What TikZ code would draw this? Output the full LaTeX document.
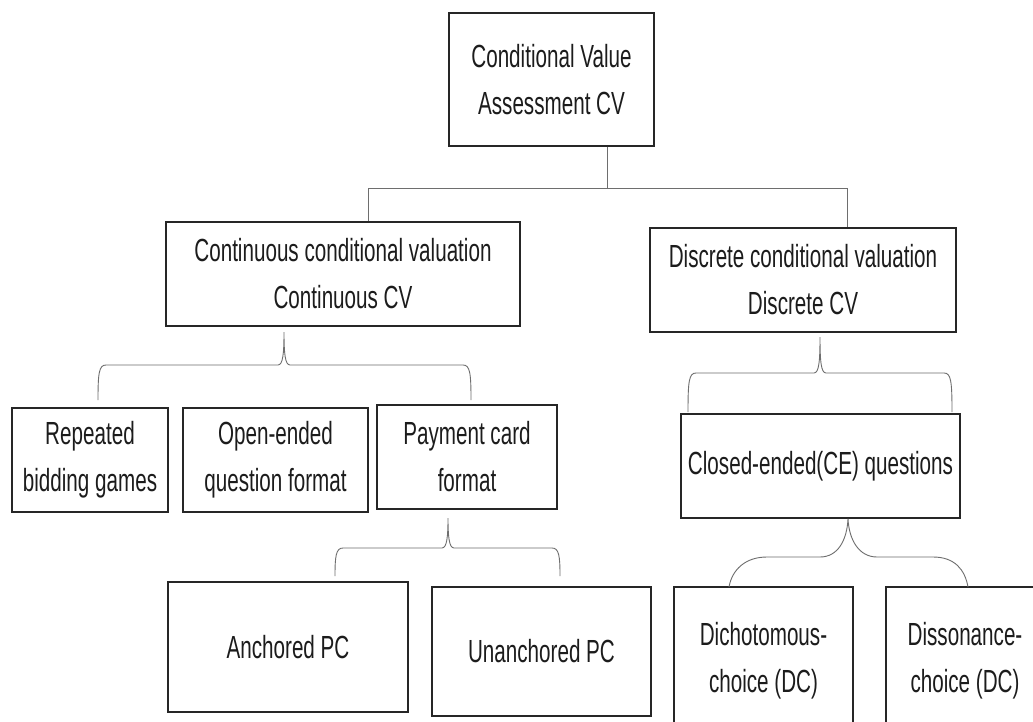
\documentclass[tikz,border=0pt]{standalone}
\usepackage{fontspec}
\setmainfont{Liberation Sans}[FakeStretch=0.645]
\definecolor{boxline}{HTML}{262626}
\definecolor{wire}{HTML}{6E6E6E}
\definecolor{ink}{HTML}{1C1C1C}
% square-ended brace: tip x, tip y, bar y, left x, right x, end y
\newcommand\bracepath[6]{%
  \draw[conn] (#4,#6) .. controls (#4,#3+8) and (#4+1,#3) .. (#4+8,#3)
    -- (#1-6,#3) .. controls (#1-1,#3) and (#1,#3-12) .. (#1,#2)
    .. controls (#1,#3-12) and (#1+1,#3) .. (#1+6,#3)
    -- (#5-8,#3) .. controls (#5-1,#3) and (#5,#3+8) .. (#5,#6);}
\begin{document}
\begin{tikzpicture}[x=1pt,y=-1pt,
  txt/.style={text=ink, align=center, font=\fontsize{32}{47}\selectfont},
  box/.style={txt, draw=boxline, line width=1.4pt, fill=white, inner sep=0pt},
  conn/.style={draw=wire, line width=0.9pt},
]
\clip (0,0) rectangle (1033,722);
\fill[white] (0,0) rectangle (1033,722);

% boxes
\node[box, minimum width=205pt, minimum height=133pt] (top) at (551.5,79.5) {Conditional Value\\Assessment CV};
\node[box, minimum width=354pt, minimum height=104pt] (cont) at (343,274) {Continuous conditional valuation\\Continuous CV};
\node[box, minimum width=306pt, minimum height=104pt] (disc) at (803,280) {Discrete conditional valuation\\Discrete CV};
\node[box, minimum width=156pt, minimum height=104pt] (rep) at (90,460) {Repeated\\bidding games};
\node[box, minimum width=185pt, minimum height=104pt] (open) at (275.5,460) {Open-ended\\question format};
\node[box, minimum width=180pt, minimum height=104pt] (pay) at (467,457) {Payment card\\format};
\node[box, minimum width=240pt, minimum height=130pt] (anch) at (288,647) {Anchored PC};
\node[box, minimum width=219pt, minimum height=129pt] (unanch) at (541.5,651.5) {Unanchored PC};
\node[box, minimum width=279pt, minimum height=104pt] (closed) at (820.5,466) {Closed-ended(CE) questions};
\node[box, minimum width=179pt, minimum height=173pt,
  label={[txt, yshift=13pt]center:Dichotomous-\\choice (DC)}] (dich) at (763.5,673.5) {};
\node[box, minimum width=158pt, minimum height=173pt,
  label={[txt, yshift=13pt]center:Dissonance-\\choice (DC)}] (diss) at (965,673.5) {};

% elbow connector from the root
\coordinate (j) at (607,188);
\coordinate (jl) at (368,188);
\coordinate (jr) at (847,188);
\draw[conn] (top.south -| j) -- (j);
\draw[conn] (cont.north -| jl) -- (jl) -- (jr) -- (disc.north -| jr);

% brackets
\bracepath{284}{332}{365}{98}{471}{400}
\bracepath{448}{518}{548}{335}{560}{576}
\bracepath{820}{337}{373}{688}{952}{412}

% curly brace below the closed-ended box
\coordinate (ceL) at (729,587);
\coordinate (ceR) at (968,587);
\draw[conn] (ceL) .. controls (732,570) and (745,557) .. (767,557) -- (820,557)
  .. controls (838,557) and (847,540) .. (closed.south -| 848,0)
  .. controls (849,540) and (859,557) .. (877,557) -- (933,557)
  .. controls (955,557) and (965,570) .. (ceR);
\end{tikzpicture}
\end{document}
